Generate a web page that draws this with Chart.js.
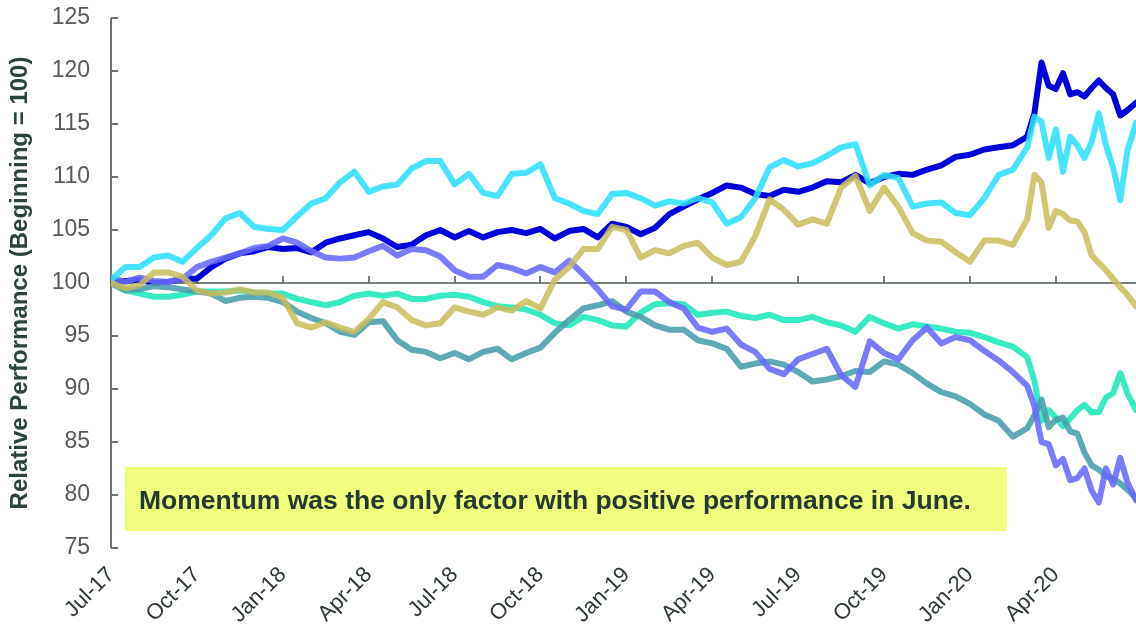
<!DOCTYPE html>
<html>
<head>
<meta charset="utf-8">
<title>Relative Performance</title>
<script src="https://cdn.jsdelivr.net/npm/chart.js"></script>
<style>
  html, body { margin: 0; padding: 0; background: #fff; }
  #wrap { width: 1136px; height: 628px; }
</style>
</head>
<body>
<div id="wrap"><canvas id="perf-chart" width="1136" height="628"></canvas></div>
<script>
// months since Jul-17 (half-month steps, quarter-month steps from Mar-20)
const months = [
  0, 0.5, 1, 1.5, 2, 2.5, 3, 3.5, 4, 4.5, 5, 5.5,
  6, 6.5, 7, 7.5, 8, 8.5, 9, 9.5, 10, 10.5, 11, 11.5,
  12, 12.5, 13, 13.5, 14, 14.5, 15, 15.5, 16, 16.5, 17, 17.5,
  18, 18.5, 19, 19.5, 20, 20.5, 21, 21.5, 22, 22.5, 23, 23.5,
  24, 24.5, 25, 25.5, 26, 26.5, 27, 27.5, 28, 28.5, 29, 29.5,
  30, 30.5, 31, 31.5, 32,
  32.25, 32.5, 32.75, 33, 33.25, 33.5, 33.75, 34, 34.25, 34.5, 34.75, 35, 35.25, 35.5,
  35.8
];

const quarterTicks = [0, 3, 6, 9, 12, 15, 18, 21, 24, 27, 30, 33];
const quarterLabels = ["Jul-17", "Oct-17", "Jan-18", "Apr-18", "Jul-18", "Oct-18",
  "Jan-19", "Apr-19", "Jul-19", "Oct-19", "Jan-20", "Apr-20"];

const blueLine = [
  100.0, 100.2, 100.3, 100.0, 100.1, 100.4, 100.4, 101.5, 102.3, 102.8, 103.0, 103.4,
  103.2, 103.3, 102.9, 103.8, 104.2, 104.5, 104.8, 104.2, 103.4, 103.6, 104.5, 105.0,
  104.3, 104.9, 104.3, 104.8, 105.0, 104.7, 105.1, 104.2, 104.9, 105.1, 104.3, 105.6,
  105.3, 104.6, 105.2, 106.5, 107.2, 107.9, 108.5, 109.2, 109.0, 108.4, 108.2, 108.8,
  108.6, 109.0, 109.6, 109.5, 110.2, 109.4, 110.0, 110.3, 110.2, 110.7, 111.1, 111.9,
  112.1, 112.6, 112.8, 113.0, 113.8,
  116.0, 120.8, 118.6, 118.3, 119.8, 117.8, 118.0, 117.6, 118.4, 119.1, 118.4, 117.8, 115.8, 116.3,
  117.0
];

const cyanLine = [
  100.3, 101.5, 101.5, 102.4, 102.6, 102.0, 103.3, 104.5, 106.1, 106.6, 105.3, 105.1,
  105.0, 106.3, 107.5, 108.0, 109.5, 110.5, 108.6, 109.1, 109.3, 110.8, 111.5, 111.5,
  109.3, 110.3, 108.5, 108.2, 110.3, 110.4, 111.2, 108.0, 107.5, 106.8, 106.5, 108.4,
  108.5, 108.0, 107.3, 107.7, 107.5, 108.0, 107.6, 105.6, 106.2, 108.0, 110.9, 111.6,
  111.0, 111.3, 112.0, 112.8, 113.1, 109.2, 110.2, 109.9, 107.2, 107.5, 107.6, 106.6,
  106.4, 108.0, 110.2, 110.7, 112.8,
  115.7, 115.2, 111.8, 114.5, 110.5, 113.8, 113.0, 111.8, 113.3, 116.0, 113.0, 110.9, 107.8, 112.5,
  115.1
];

const purpleLine = [
  100.5, 100.1, 100.5, 100.2, 100.1, 100.4, 101.5, 102.0, 102.4, 102.8, 103.3, 103.5,
  104.2, 103.8, 103.0, 102.4, 102.3, 102.4, 103.0, 103.5, 102.6, 103.2, 103.1, 102.5,
  101.2, 100.6, 100.6, 101.7, 101.4, 100.9, 101.5, 101.0, 102.1, 100.8, 99.4, 97.8,
  97.5, 99.2, 99.2, 98.2, 97.6, 95.8, 95.4, 95.7, 94.2, 93.5, 91.9, 91.4,
  92.8, 93.3, 93.8, 91.3, 90.2, 94.5, 93.4, 92.8, 94.6, 95.8, 94.3, 94.9,
  94.6, 93.6, 92.7, 91.6, 90.3,
  88.4, 85.0, 84.8, 82.8, 83.4, 81.4, 81.6, 82.5, 80.4, 79.3, 82.5, 81.0, 83.5, 81.2,
  79.5
];

const khakiLine = [
  100.0, 99.5, 99.8, 101.0, 101.0, 100.6, 99.3, 99.0, 99.1, 99.4, 99.1, 99.1,
  98.6, 96.2, 95.8, 96.3, 95.8, 95.4, 96.6, 98.2, 97.7, 96.5, 96.0, 96.2,
  97.7, 97.3, 97.0, 97.7, 97.4, 98.3, 97.6, 100.3, 101.5, 103.2, 103.2, 105.3,
  105.0, 102.4, 103.1, 102.8, 103.5, 103.8, 102.4, 101.7, 102.0, 104.4, 107.9, 106.9,
  105.5, 106.0, 105.6, 109.0, 110.1, 106.8, 109.0, 107.2, 104.7, 104.0, 103.9, 102.9,
  102.0, 104.0, 104.0, 103.6, 106.0,
  110.2, 109.5, 105.2, 106.8, 106.5, 105.9, 105.8, 104.8, 102.6, 101.9, 101.2, 100.4, 99.6, 98.9,
  97.8
];

const mintLine = [
  100.0, 99.3, 99.0, 98.7, 98.7, 98.9, 99.2, 99.2, 99.2, 99.3, 99.1, 99.0,
  99.0, 98.5, 98.2, 97.9, 98.2, 98.8, 99.0, 98.8, 99.0, 98.5, 98.5, 98.8,
  98.9, 98.7, 98.2, 97.8, 97.7, 97.5, 97.0, 96.2, 96.0, 96.8, 96.5, 96.0,
  95.9, 97.2, 98.0, 98.1, 98.0, 97.0, 97.2, 97.3, 96.9, 96.7, 97.0, 96.5,
  96.5, 96.8, 96.3, 96.0, 95.4, 96.8, 96.2, 95.7, 96.1, 95.9, 95.7, 95.4,
  95.3, 94.9, 94.4, 94.0, 93.0,
  90.8, 87.0, 88.0, 87.3, 86.5, 87.2, 88.0, 88.5, 87.8, 87.8, 89.2, 89.6, 91.5, 89.6,
  88.0
];

const tealLine = [
  100.0, 99.3, 99.4, 99.7, 99.6, 99.4, 99.2, 99.0, 98.3, 98.6, 98.7, 98.6,
  98.2, 97.3, 96.7, 96.2, 95.4, 95.1, 96.3, 96.4, 94.6, 93.7, 93.5, 92.9,
  93.4, 92.8, 93.5, 93.8, 92.8, 93.4, 93.9, 95.3, 96.5, 97.6, 97.9, 98.3,
  97.3, 96.8, 96.0, 95.6, 95.6, 94.6, 94.3, 93.8, 92.1, 92.4, 92.6, 92.3,
  91.6, 90.7, 90.9, 91.2, 91.7, 91.6, 92.6, 92.3, 91.5, 90.5, 89.7, 89.3,
  88.6, 87.6, 87.0, 85.5, 86.3,
  87.5, 89.0, 86.4, 87.1, 87.3, 86.0, 85.8, 84.0, 82.8, 82.4, 81.8, 81.5, 81.1, 80.5,
  79.7
];

const noteText = "Momentum was the only factor with positive performance in June.";
const fontFamily = "'Liberation Sans', Arial, sans-serif";

function points(vals) {
  return vals.map((v, i) => ({ x: months[i], y: v }));
}

// axis line, inward ticks and the zero line at 100
const axisLines = {
  id: "axisLines",
  beforeDatasetsDraw(chart) {
    const { ctx, chartArea, scales: { x, y } } = chart;
    const base = y.getPixelForValue(100);
    ctx.save();
    ctx.strokeStyle = "#66756d";
    ctx.lineWidth = 2;
    ctx.beginPath();
    ctx.moveTo(chartArea.left, chartArea.top);
    ctx.lineTo(chartArea.left, chartArea.bottom);
    y.ticks.forEach(t => {
      const py = Math.round(y.getPixelForValue(t.value));
      ctx.moveTo(chartArea.left, py);
      ctx.lineTo(chartArea.left + 7, py);
    });
    ctx.stroke();
    ctx.strokeStyle = "#4a5a52";
    ctx.lineWidth = 1.5;
    ctx.beginPath();
    ctx.moveTo(chartArea.left, base);
    ctx.lineTo(chartArea.right, base);
    x.ticks.forEach(t => {
      const px = Math.round(x.getPixelForValue(t.value));
      ctx.moveTo(px, base);
      ctx.lineTo(px, base - 7);
    });
    ctx.stroke();
    ctx.restore();
  }
};

// yellow call-out box
const noteBox = {
  id: "noteBox",
  afterDatasetsDraw(chart) {
    const { ctx, chartArea } = chart;
    ctx.save();
    ctx.fillStyle = "#f2fd80";
    ctx.fillRect(chartArea.left + 14, 467, 882, 64);
    ctx.fillStyle = "#24392f";
    ctx.font = "bold 26.5px " + fontFamily;
    ctx.textBaseline = "alphabetic";
    ctx.fillText(noteText, chartArea.left + 28, 509);
    ctx.restore();
  }
};

const lineStyle = (color, vals) => ({
  data: points(vals),
  borderColor: color,
  borderWidth: 6,
  pointRadius: 0,
  tension: 0,
  borderJoinStyle: "round",
  borderCapStyle: "round",
  fill: false
});

// first dataset is drawn on top
const perfData = {
  datasets: [
    lineStyle("rgba(201, 188, 92, 0.85)", khakiLine),
    lineStyle("rgba(45, 224, 255, 0.87)", cyanLine),
    lineStyle("rgba(105, 105, 255, 0.88)", purpleLine),
    lineStyle("rgba(72, 158, 170, 0.88)", tealLine),
    lineStyle("rgba(40, 233, 190, 0.92)", mintLine),
    lineStyle("#0000dd", blueLine)
  ]
};

const perfOptions = {
  responsive: false,
  devicePixelRatio: 1,
  animation: false,
  layout: { autoPadding: false, padding: { top: 18, right: 0, bottom: 0, left: 0 } },
  plugins: {
    legend: { display: false },
    tooltip: { enabled: false }
  },
  scales: {
    x: {
      type: "linear",
      min: 0,
      max: 35.8,
      grid: { display: false, drawTicks: false },
      border: { display: false },
      afterBuildTicks: s => { s.ticks = quarterTicks.map(v => ({ value: v })); },
      afterFit: s => { s.height = 80; s.paddingLeft = 0; s.paddingRight = 0; },
      ticks: {
        autoSkip: false,
        minRotation: 45,
        maxRotation: 45,
        padding: 14,
        color: "#2c3a33",
        font: { size: 22, family: fontFamily },
        callback: v => quarterLabels[quarterTicks.indexOf(v)]
      }
    },
    y: {
      min: 75,
      max: 125,
      grid: { display: false, drawTicks: false },
      border: { display: false },
      afterFit: s => { s.width = 111; s.paddingTop = 0; s.paddingBottom = 0; },
      ticks: {
        stepSize: 5,
        padding: 21,
        color: "#595959",
        font: { size: 23, family: fontFamily }
      },
      title: {
        display: true,
        text: "Relative Performance (Beginning = 100)",
        color: "#2b4538",
        font: { size: 24, weight: "bold", family: fontFamily },
        padding: { top: 6, bottom: 0 }
      }
    }
  }
};

const perfChart = new Chart(document.getElementById("perf-chart"), {
  type: "line",
  data: perfData,
  options: perfOptions,
  plugins: [axisLines, noteBox]
});
</script>
</body>
</html>
